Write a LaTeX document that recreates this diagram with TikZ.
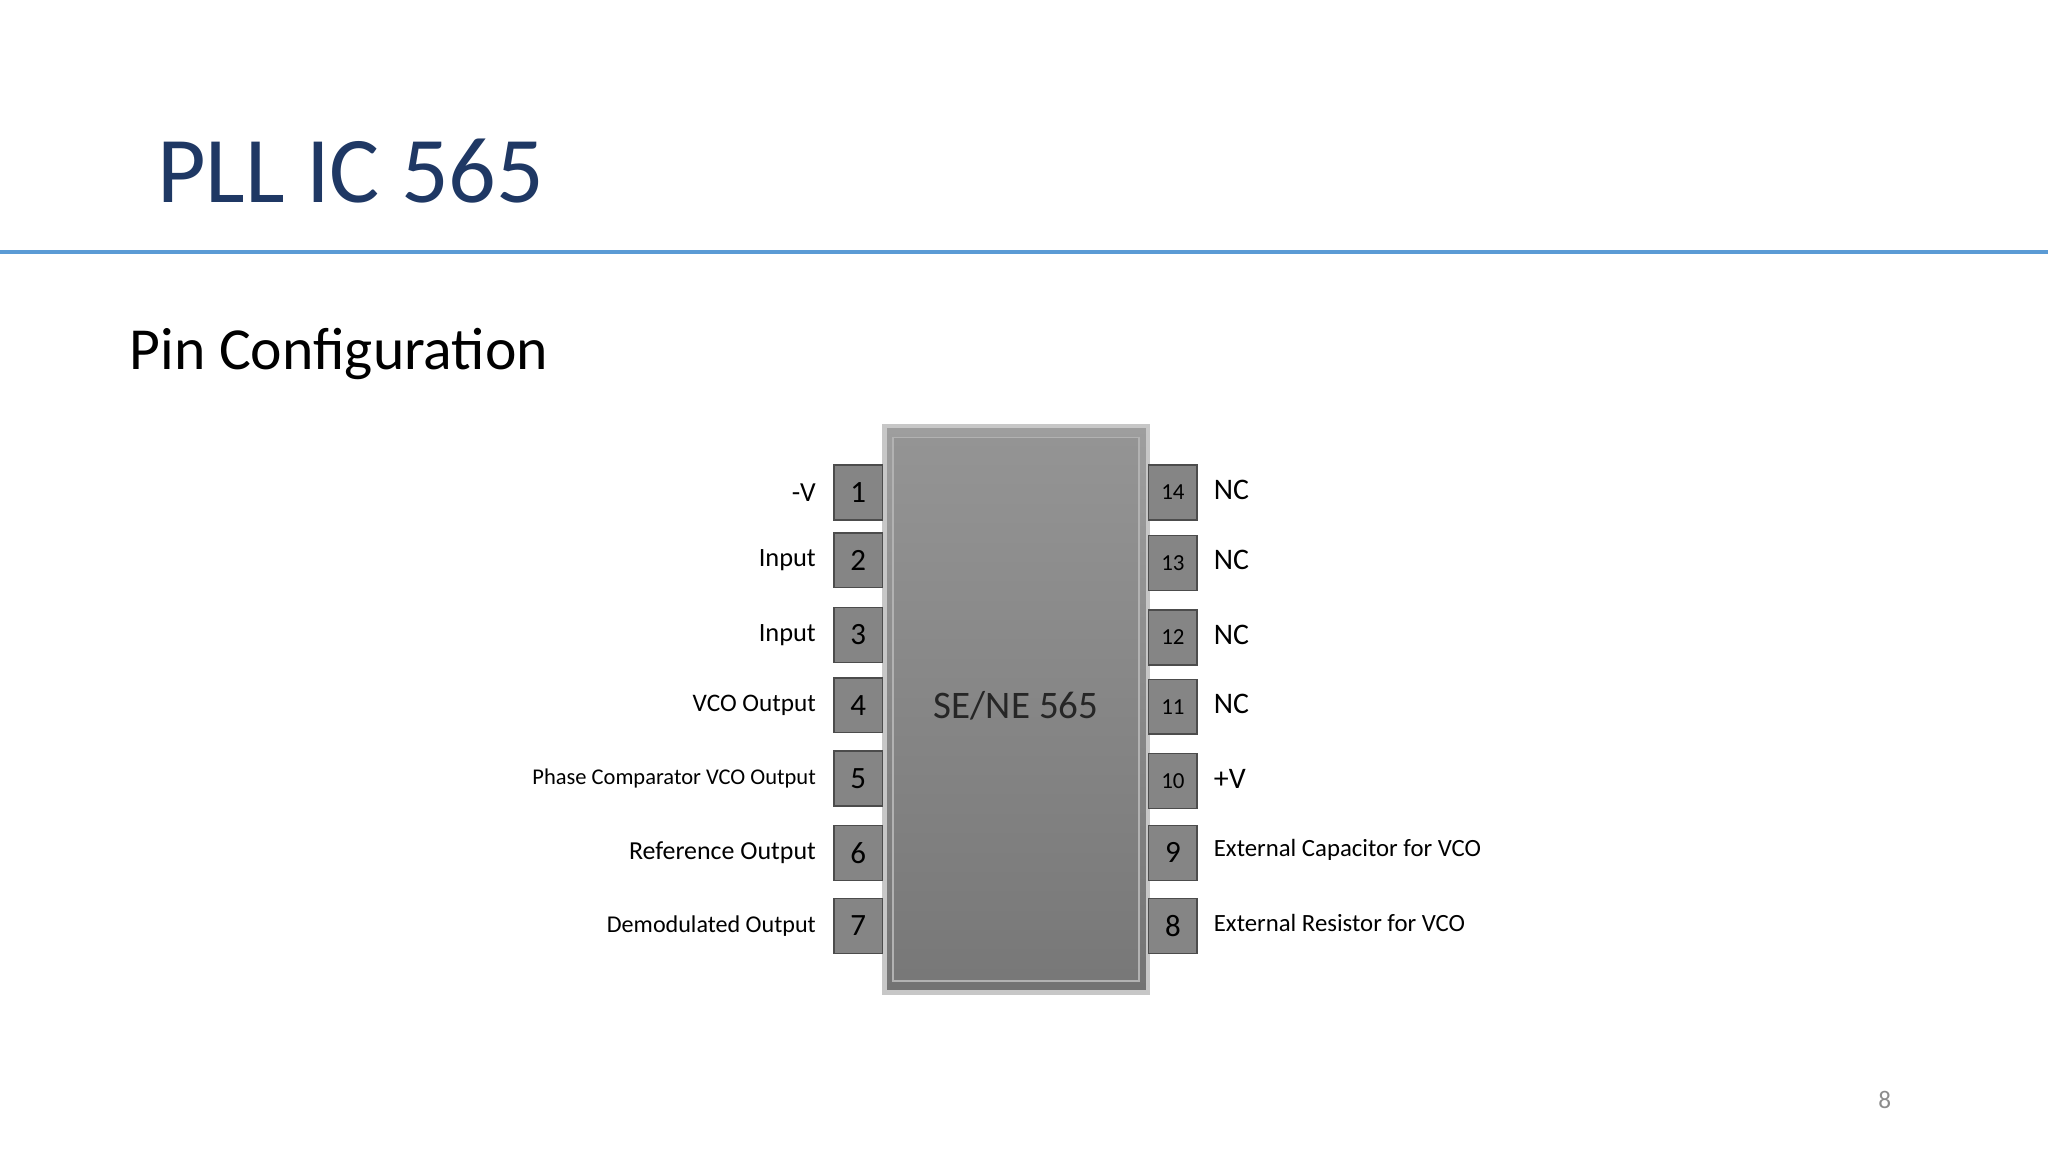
\documentclass[tikz,border=0pt]{standalone}
\usepackage{fontspec}
\setmainfont{Carlito}
\usetikzlibrary{calc}
\definecolor{titleblue}{HTML}{1F3864}
\definecolor{rule}{HTML}{5B9BD5}
\begin{document}
\begin{tikzpicture}[x=0.02cm,y=-0.02cm,
  pinbox/.style={draw=black!70,fill=black!48,minimum width=0.74cm,minimum height=0.84cm,inner sep=0pt,line width=0.6pt}]
\useasboundingbox (0,0) rectangle (1568,882);
\node[anchor=base west,inner sep=0pt,text=titleblue,font=\fontsize{41}{44}\selectfont] (title) at (120,155) {PLL IC 565};
\draw[rule,line width=2pt] (0,193) coordinate (r1) -- (1568,193) coordinate (r2);
\node[anchor=base west,inner sep=0pt,font=\fontsize{26}{30}\selectfont] (sub) at (99,283) {Pin Configuration};
% chip
\draw[black!22,line width=2pt,top color=black!38,bottom color=black!55] (677,326) rectangle (879,760);
\draw[black!30,line width=0.8pt,top color=black!42,bottom color=black!53] (684,335) rectangle (872,751);
\node[font=\fontsize{17}{20}\selectfont,text=black!85] (chip) at (778,540) {SE/NE 565};
% left pins
\foreach \n/\y/\t/\f in {1/377/-V/12,2/429/Input/11.5,3/486/Input/11.5,4/540/VCO Output/11,5/596/Phase Comparator VCO Output/9.8,6/653/Reference Output/11.3,7/709/Demodulated Output/10.5}{
  \node[pinbox,font=\fontsize{13.5}{16}\selectfont] (L\n) at (657,\y) {\n};
  \node[anchor=east,inner sep=0pt,font=\fontsize{\f}{14}\selectfont] (LL\n) at ($(L\n.west)+(-13,0)$) {\t};
}
% right pins
\foreach \n/\y/\t/\f/\g in {14/377/NC/10/13,13/431/NC/10/13,12/488/NC/10/13,11/541/NC/10/13,10/598/+V/10/13,9/653/External Capacitor for VCO/13.5/10.8,8/709/External Resistor for VCO/13.5/10.8}{
  \node[pinbox,font=\fontsize{\f}{16}\selectfont] (R\n) at (898,\y) {\n};
  \node[anchor=west,inner sep=0pt,font=\fontsize{\g}{16}\selectfont] (RL\n) at ($(R\n.east)+(12,-2)$) {\t};
}
\node[text=black!45,font=\fontsize{11}{14}\selectfont] (pg) at (1443,842) {8};
\end{tikzpicture}
\end{document}
